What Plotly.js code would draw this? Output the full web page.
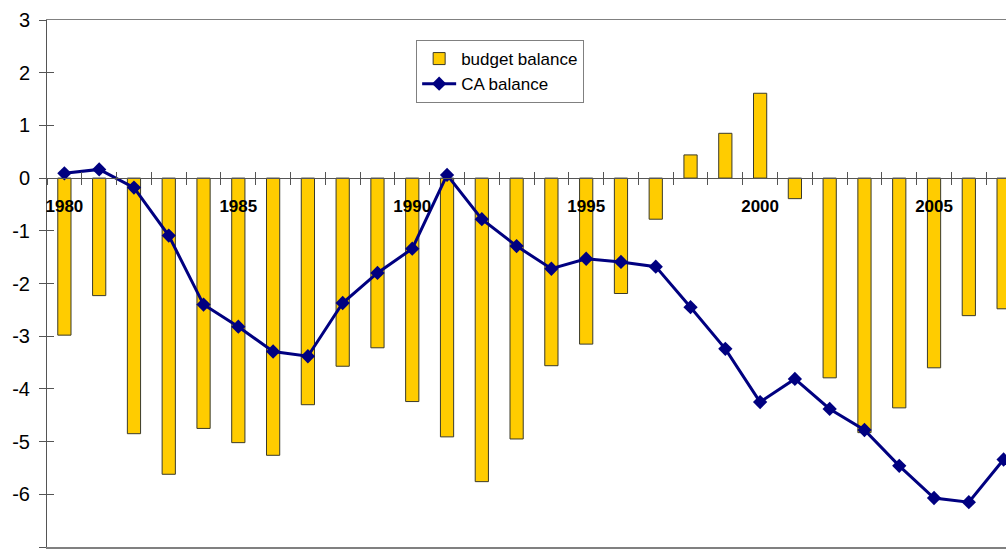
<!DOCTYPE html>
<html>
<head>
<meta charset="utf-8">
<script src="https://cdn.plot.ly/plotly-3.0.1.min.js"></script>
<style>
  html, body { margin: 0; padding: 0; overflow: hidden; background: #fff; }
  #chart { width: 1040px; height: 550px; }
</style>
</head>
<body>
<div id="chart"></div>
<script>
// Years shown on the category axis
const years = [1980, 1981, 1982, 1983, 1984, 1985, 1986, 1987, 1988, 1989,
               1990, 1991, 1992, 1993, 1994, 1995, 1996, 1997, 1998, 1999,
               2000, 2001, 2002, 2003, 2004, 2005, 2006, 2007];

// Budget balance (% of GDP)
const budgetBalance = [-2.98, -2.23, -4.85, -5.62, -4.75, -5.02, -5.26, -4.30, -3.57, -3.22,
                       -4.24, -4.91, -5.76, -4.95, -3.56, -3.15, -2.19, -0.78, 0.44, 0.85,
                       1.61, -0.39, -3.79, -4.83, -4.36, -3.60, -2.61, -2.48];

// Current account balance (% of GDP)
const caBalance = [0.09, 0.165, -0.18, -1.09, -2.40, -2.82, -3.29, -3.38, -2.37, -1.80,
                   -1.34, 0.06, -0.78, -1.29, -1.72, -1.53, -1.59, -1.68, -2.45, -3.24,
                   -4.25, -3.81, -4.38, -4.78, -5.46, -6.07, -6.15, -5.34];

// Labelled years on the axis
const labelYears = [1980, 1985, 1990, 1995, 2000, 2005];

// Value axis ticks and their labels (plain hyphen minus)
const yTickVals = [-7, -6, -5, -4, -3, -2, -1, 0, 1, 2, 3];
const yTickText = ['-7', '-6', '-5', '-4', '-3', '-2', '-1', '0', '1', '2', '3'];

const FONT = 'Liberation Sans, Arial, sans-serif';
const xRange = [years[0] - 0.5, years[years.length - 1] + 0.5];
const yRange = [-7, 3];
const boundaries = years.map(y => y - 0.5).concat([years[years.length - 1] + 0.5]);
const zeroPos = (0 - yRange[0]) / (yRange[1] - yRange[0]);

// empty helper trace so an overlay axis gets drawn
function axisHolder(xa, ya) {
  return { type: 'scatter', mode: 'markers', x: [], y: [], xaxis: xa, yaxis: ya,
           showlegend: false, hoverinfo: 'skip' };
}

const traces = [
  {
    type: 'bar',
    name: 'budget balance',
    x: years,
    y: budgetBalance,
    width: 0.38,
    marker: { color: '#FFCC00', line: { color: '#3a3a2a', width: 1 } },
    hoverinfo: 'skip'
  },
  {
    type: 'scatter',
    mode: 'lines+markers',
    name: 'CA balance',
    x: years,
    y: caBalance,
    line: { color: '#000080', width: 3 },
    marker: { symbol: 'diamond', size: 11, color: '#000080' },
    hoverinfo: 'skip'
  },
  axisHolder('x2', 'y'),
  axisHolder('x3', 'y'),
  axisHolder('x4', 'y'),
  axisHolder('x', 'y2')
];

const tickAxisBase = {
  overlaying: 'x',
  anchor: 'free',
  position: zeroPos,
  range: xRange,
  tickmode: 'array',
  tickvals: boundaries,
  ticklen: 6,
  tickwidth: 1,
  tickcolor: '#555',
  showticklabels: false,
  showgrid: false,
  zeroline: false
};

const layout = {
  width: 1040,
  height: 550,
  margin: { l: 47, r: 19, t: 20, b: 3 },
  paper_bgcolor: '#ffffff',
  plot_bgcolor: '#ffffff',
  font: { family: FONT, color: '#000' },
  showlegend: true,
  bargap: 0,
  legend: {
    x: 0.379, y: 0.962, xanchor: 'left', yanchor: 'top',
    bgcolor: '#ffffff',
    bordercolor: '#808080',
    borderwidth: 1,
    itemwidth: 34,
    font: { family: FONT, size: 17, color: '#000' },
    traceorder: 'normal'
  },
  xaxis: {
    range: xRange,
    showline: true,
    mirror: true,
    linecolor: '#808080',
    linewidth: 1.5,
    ticks: '',
    showticklabels: false,
    showgrid: false,
    zeroline: false
  },
  // zero line with ticks crossing it
  xaxis2: Object.assign({}, tickAxisBase, { ticks: 'outside', showline: true, linecolor: '#555', linewidth: 1 }),
  xaxis3: Object.assign({}, tickAxisBase, { ticks: 'inside', showline: false }),
  // year labels under the zero line
  xaxis4: {
    overlaying: 'x',
    anchor: 'free',
    position: zeroPos,
    range: xRange,
    tickmode: 'array',
    tickvals: labelYears,
    ticktext: labelYears.map(String),
    ticks: '',
    ticklabelstandoff: 16,
    tickfont: { family: FONT, size: 17, color: '#000', weight: 'bold' },
    showline: false,
    showgrid: false,
    zeroline: false
  },
  yaxis: {
    range: yRange,
    tickmode: 'array',
    tickvals: yTickVals,
    ticktext: yTickText,
    ticks: 'outside',
    ticklen: 7,
    tickwidth: 1,
    tickcolor: '#555',
    showline: true,
    linecolor: '#555',
    linewidth: 1,
    ticklabelstandoff: 5,
    tickfont: { family: FONT, size: 20, color: '#000' },
    showgrid: false,
    zeroline: false
  },
  yaxis2: {
    overlaying: 'y',
    anchor: 'x',
    range: yRange,
    tickmode: 'array',
    tickvals: yTickVals,
    ticks: 'inside',
    ticklen: 7,
    tickwidth: 1,
    tickcolor: '#555',
    showticklabels: false,
    showline: false,
    showgrid: false,
    zeroline: false
  }
};

Plotly.newPlot('chart', traces, layout, { staticPlot: true, displayModeBar: false });
</script>
</body>
</html>
